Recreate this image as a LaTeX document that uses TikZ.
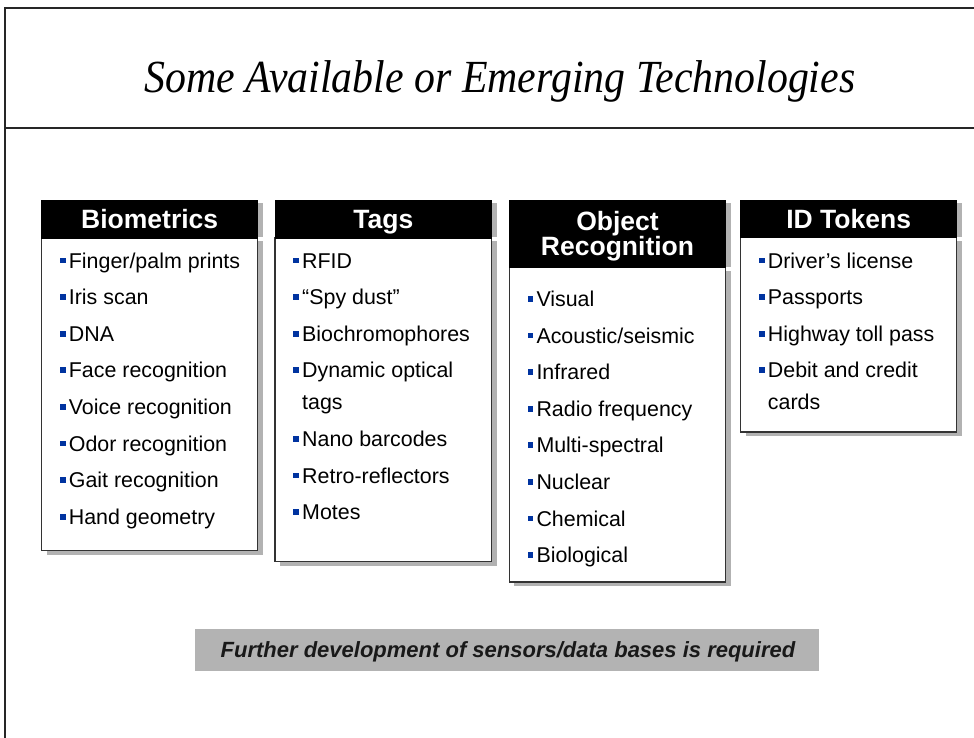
\documentclass[tikz,border=0pt]{standalone}
\usepackage{fontspec}
\usepackage{graphicx}
\setmainfont{Liberation Sans}
\newfontfamily\serifttl{Liberation Serif}
\definecolor{bulletblue}{RGB}{0,51,160}
\definecolor{shadowgray}{RGB}{178,178,178}
\definecolor{bannergray}{RGB}{179,179,179}
\newcommand{\itemfnt}{\fontsize{21.4}{26}\selectfont}
\newcommand{\hdrfnt}{\bfseries\fontsize{26.5}{26}\selectfont}
\newcommand{\bitem}[4]{%
  \node[blt] (#1b) at (#2-5.8,#3-7.6) {};
  \node[itm] (#1) at (#2,#3) {#4};}
\tikzset{
  frameline/.style={draw=black!85, line width=2pt},
  hdr/.style={fill=black, draw=black, line width=0.8pt, inner sep=0, outer sep=0, anchor=north west},
  bodybox/.style={fill=white, draw=black!80, line width=1.2pt, inner sep=0, outer sep=0, anchor=north west},
  shd/.style={fill=shadowgray, draw=none},
  hdrtext/.style={anchor=base, inner sep=0, text=white, font=\hdrfnt},
  itm/.style={anchor=base west, inner sep=0, font=\itemfnt},
  blt/.style={fill=bulletblue, draw=none, minimum size=5.8pt, inner sep=0, outer sep=0},
}
\begin{document}
\begin{tikzpicture}[x=1pt,y=-1pt]
\useasboundingbox (0,0) rectangle (974,738);
\fill[white] (0,0) rectangle (974,738);
% frame
\draw[frameline] (5,740) -- (5,8) -- (976,8);
\draw[frameline] (5,127.7) -- (976,127.7);
\node[anchor=base, inner sep=0] (title) at (500,93)
  {\scalebox{0.91}[1]{\serifttl\itshape\fontsize{46}{52}\selectfont Some Available or Emerging Technologies}};

% ---------- Biometrics ----------
\fill[shd] (257.7,203) rectangle (262.7,237);
\fill[shd] (46.7,241) rectangle (262.7,555);
\node[bodybox, minimum width=216pt, minimum height=312.7pt] (biobody) at (41.7,238) {};
\node[hdr, minimum width=216pt, minimum height=37.3pt] (biohdr) at (41.7,200.7) {};
\node[hdrtext] (biot) at (149.7,228.6) {Biometrics};
\bitem{b1}{68.7}{268}{Finger/palm prints}
\bitem{b2}{68.7}{304.6}{Iris scan}
\bitem{b3}{68.7}{341.2}{DNA}
\bitem{b4}{68.7}{377.8}{Face recognition}
\bitem{b5}{68.7}{414.4}{Voice recognition}
\bitem{b6}{68.7}{451}{Odor recognition}
\bitem{b7}{68.7}{487.6}{Gait recognition}
\bitem{b8}{68.7}{524.2}{Hand geometry}

% ---------- Tags ----------
\fill[shd] (491.7,203) rectangle (496.7,237);
\fill[shd] (280,241) rectangle (496.7,565.5);
\node[bodybox, minimum width=216.7pt, minimum height=323.5pt] (tagbody) at (275,238) {};
\node[hdr, minimum width=216.7pt, minimum height=37.3pt] (taghdr) at (275,200.7) {};
\node[hdrtext] (tagt) at (383.3,228.6) {Tags};
\bitem{t1}{302}{268}{RFID}
\bitem{t2}{302}{304.6}{“Spy dust”}
\bitem{t3}{302}{341.2}{Biochromophores}
\bitem{t4}{302}{377.8}{Dynamic optical}
\node[itm] (t4b2) at (302,409.8) {tags};
\bitem{t5}{302}{446.4}{Nano barcodes}
\bitem{t6}{302}{483}{Retro-reflectors}
\bitem{t7}{302}{519.6}{Motes}

% ---------- Object Recognition ----------
\fill[shd] (725.7,203) rectangle (730.7,266.7);
\fill[shd] (514.3,270.7) rectangle (730.7,586);
\node[bodybox, minimum width=216.4pt, minimum height=314.3pt] (objbody) at (509.3,267.7) {};
\node[hdr, minimum width=216.4pt, minimum height=67pt] (objhdr) at (509.3,200.7) {};
\node[hdrtext] (objt1) at (617.5,230) {Object};
\node[hdrtext] (objt2) at (617.5,255.7) {Recognition};
\bitem{o1}{536.3}{306.4}{Visual}
\bitem{o2}{536.3}{343}{Acoustic/seismic}
\bitem{o3}{536.3}{379.6}{Infrared}
\bitem{o4}{536.3}{416.2}{Radio frequency}
\bitem{o5}{536.3}{452.8}{Multi-spectral}
\bitem{o6}{536.3}{489.4}{Nuclear}
\bitem{o7}{536.3}{526}{Chemical}
\bitem{o8}{536.3}{562.6}{Biological}

% ---------- ID Tokens ----------
\fill[shd] (956.7,203) rectangle (961.7,236.7);
\fill[shd] (745.7,240.7) rectangle (961.7,436);
\node[bodybox, minimum width=216pt, minimum height=194.3pt] (idbody) at (740.7,237.7) {};
\node[hdr, minimum width=216pt, minimum height=37pt] (idhdr) at (740.7,200.7) {};
\node[hdrtext] (idt) at (848.7,228.4) {ID Tokens};
\bitem{i1}{767.7}{268}{Driver’s license}
\bitem{i2}{767.7}{304.6}{Passports}
\bitem{i3}{767.7}{341.2}{Highway toll pass}
\bitem{i4}{767.7}{377.8}{Debit and credit}
\node[itm] (i4b2) at (767.7,409.8) {cards};

% ---------- banner ----------
\node[fill=bannergray, draw=none, anchor=north west, minimum width=624pt, minimum height=42.4pt, inner sep=0] (banner) at (195,628.3) {};
\node[anchor=base, inner sep=0, text=black!90, font=\bfseries\itshape\fontsize{22}{26}\selectfont] (bannert) at (508,657.4)
  {Further development of sensors/data bases is required};
\end{tikzpicture}
\end{document}
